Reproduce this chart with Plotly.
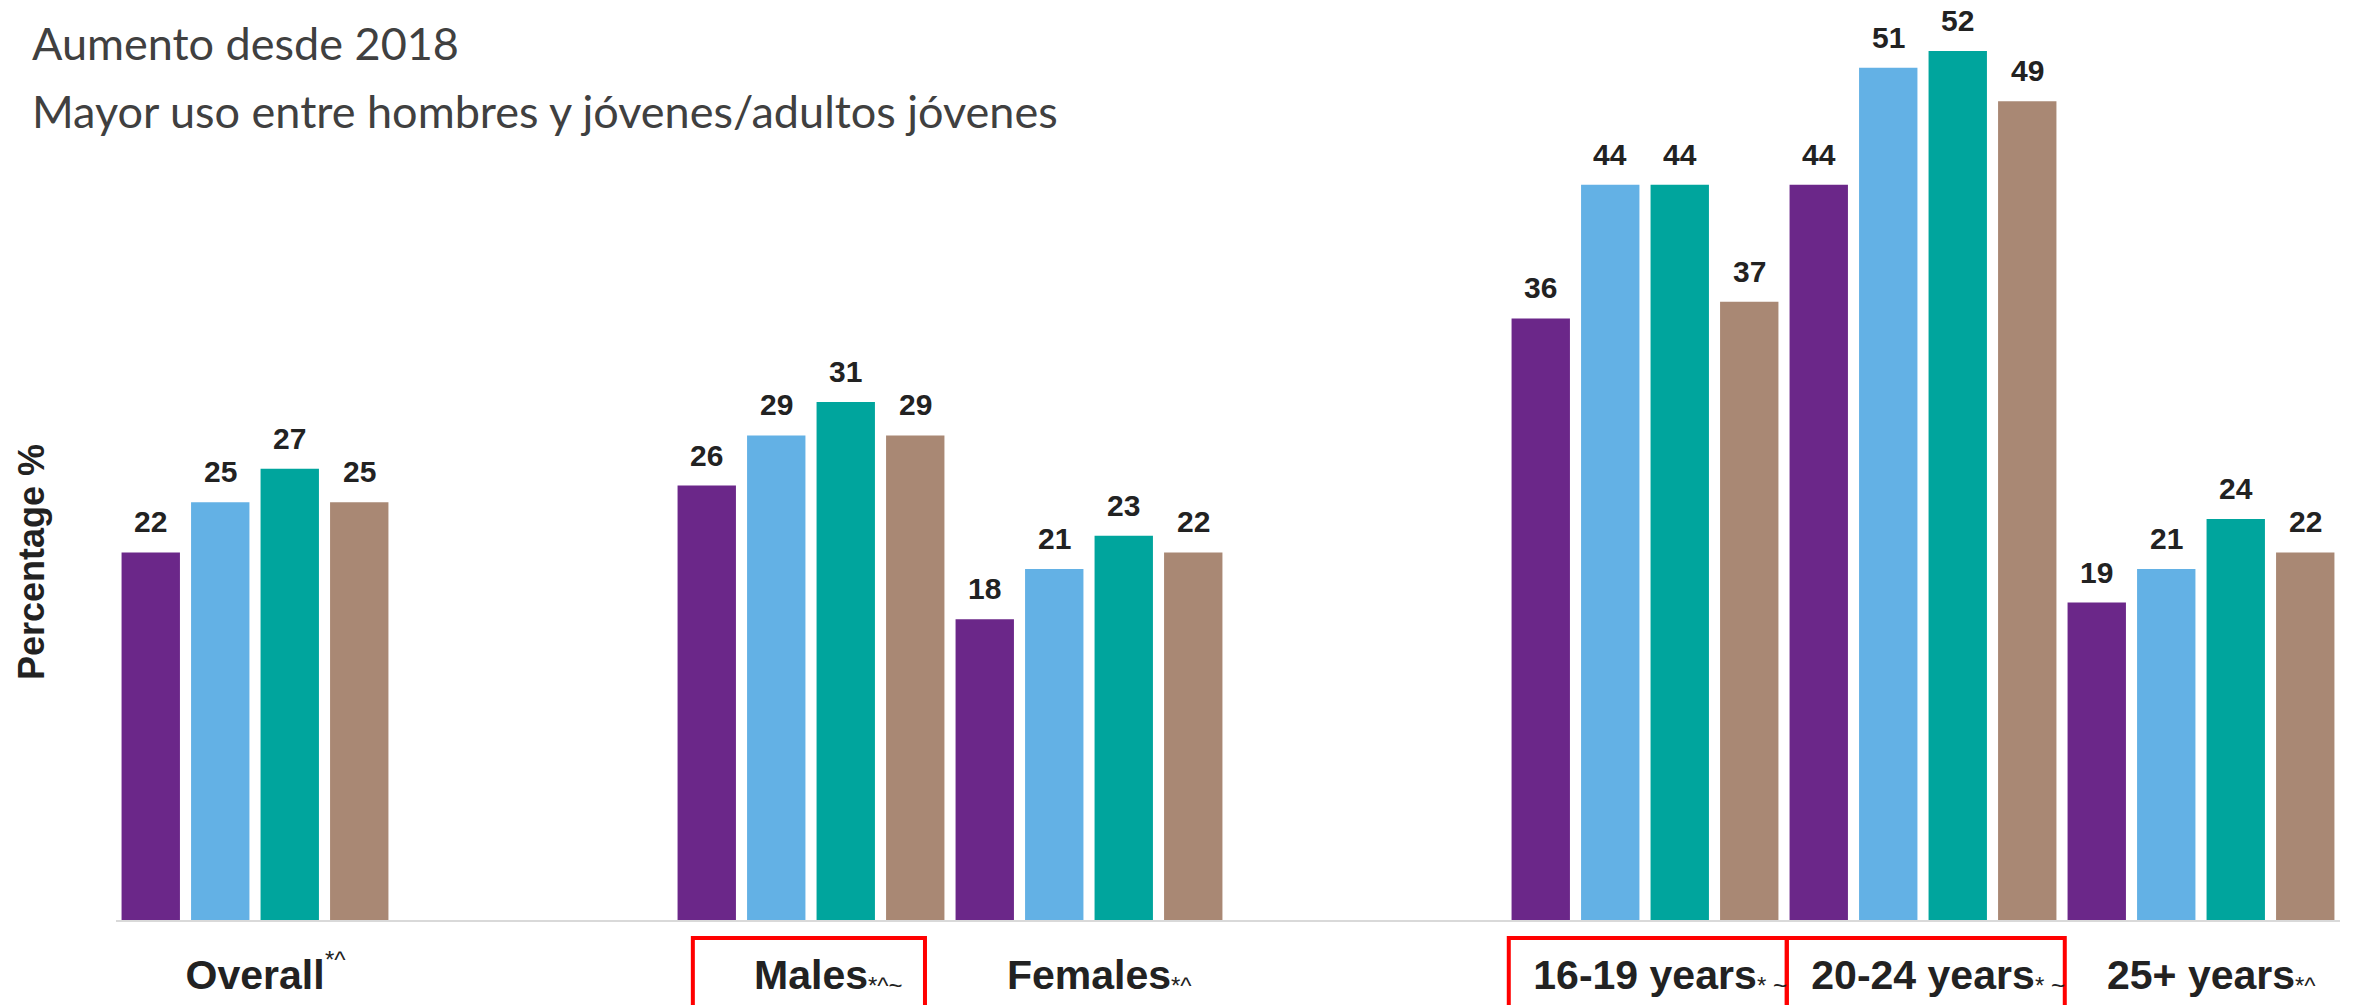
import plotly.graph_objects as go

# ---- data ----
categories = ["Overall", "Males", "Females", "16-19 years", "20-24 years", "25+ years"]
cat_pos = [0, 2, 3, 5, 6, 7]
suffix_sup = ["*^", "", "", "", "", ""]
suffix_sub = ["", "*^~", "*^", "* ~", "* ~", "*^"]
series_names = ["2018", "2019", "2020", "2021"]
values = {
    "2018": [22, 26, 18, 36, 44, 19],
    "2019": [25, 29, 21, 44, 51, 21],
    "2020": [27, 31, 23, 44, 52, 24],
    "2021": [25, 29, 22, 37, 49, 22],
}
colors = ["#6b2789", "#63b1e5", "#00a59d", "#a98874"]
title_lines = ["Aumento desde 2018", "Mayor uso entre hombres y jóvenes/adultos jóvenes"]
y_title = "Percentage %"
boxed = ["Males", "16-19 years", "20-24 years"]

W, H = 2353, 1005
BAR_W = 0.21
PITCH = 0.25
LBL_SIZE = 41
FONT = "Liberation Sans, Arial"

# Arial Bold advance widths (em) used to place the small suffix marks after each label
ARIAL_BOLD = {"O": .778, "v": .556, "e": .556, "r": .389, "a": .556, "l": .278, "M": .833,
              "s": .556, "F": .611, "m": .889, "1": .556, "6": .556, "-": .333, "9": .556,
              " ": .278, "y": .556, "2": .556, "0": .556, "4": .556, "5": .556, "+": .584}


def text_width(t, size):
    return sum(ARIAL_BOLD.get(ch, .556) for ch in t) * size


fig = go.Figure()
annotations = []
for i, name in enumerate(series_names):
    off = -0.5 + 0.02 + i * PITCH
    fig.add_trace(go.Bar(
        x=cat_pos, y=values[name], name=name,
        width=BAR_W, offset=off,
        marker=dict(color=colors[i], line=dict(width=0)),
        showlegend=False, hoverinfo="x+y",
    ))
    for xp, v in zip(cat_pos, values[name]):
        annotations.append(dict(
            x=xp + off + BAR_W / 2, y=v, xref="x", yref="y",
            text=str(v), showarrow=False, yanchor="bottom", xanchor="center",
            yshift=12, font=dict(family=FONT, size=30, color="#222222", weight="bold"),
        ))

# suffix marks after category labels
for c, xp, sup, sub in zip(categories, cat_pos, suffix_sup, suffix_sub):
    mark = sup or sub
    if not mark:
        continue
    annotations.append(dict(
        x=xp, y=0, xref="x", yref="paper", xanchor="left", yanchor="top",
        xshift=text_width(c, LBL_SIZE) / 2 - 2, yshift=-24 if sup else -50,
        text=mark, showarrow=False,
        font=dict(family=FONT, size=24, color="#222222"),
    ))

# titles
annotations.append(dict(x=(30 - 116) / 2224, y=0.985, xref="paper", yref="paper", xanchor="left", yanchor="top",
                        text=title_lines[0], showarrow=False,
                        font=dict(family="Lato", size=45, color="#404040")))
annotations.append(dict(x=(30 - 116) / 2224, y=0.911, xref="paper", yref="paper", xanchor="left", yanchor="top",
                        text=title_lines[1], showarrow=False,
                        font=dict(family="Lato", size=45, color="#404040")))
annotations.append(dict(x=(31 - 116) / 2224, y=(920 - 562) / 920, xref="paper", yref="paper",
                        xanchor="center", yanchor="middle", textangle=-90,
                        text=y_title, showarrow=False,
                        font=dict(family=FONT, size=36, color="#222222", weight="bold")))

# red boxes
shapes = []
for c in boxed:
    xp = cat_pos[categories.index(c)]
    x0 = xp - 0.5 + (0.075 if c == "Males" else 0.01)
    x1 = xp + 0.5 - (0.09 if c == "Males" else -0.01)
    shapes.append(dict(type="rect", xref="x", yref="paper", x0=x0, x1=x1,
                       y0=-0.0195, y1=-0.2, line=dict(color="#ff0000", width=4)))

fig.update_layout(
    width=W, height=H,
    margin=dict(l=116, r=13, t=0, b=85, autoexpand=False),
    paper_bgcolor="white", plot_bgcolor="white",
    barmode="overlay",
    annotations=annotations, shapes=shapes,
    xaxis=dict(range=[-0.5, 7.5], tickvals=cat_pos, ticktext=categories, tickangle=0,
               automargin=False,
               showline=True, linecolor="#d9d9d9", linewidth=2, ticks="",
               showgrid=False, zeroline=False, ticklabelstandoff=18,
               tickfont=dict(family=FONT, size=LBL_SIZE, color="#222222", weight="bold")),
    yaxis=dict(range=[0, 920 / 16.71], visible=False, showgrid=False, zeroline=False),
)
fig.write_html("out.html", config={"displayModeBar": False},
               post_script="document.body.style.margin='0';document.body.style.overflow='hidden';")
